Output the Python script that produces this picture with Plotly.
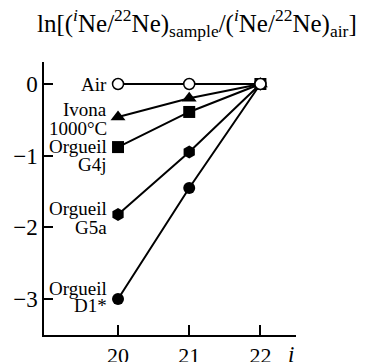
import plotly.graph_objects as go

# ---- data ----
isotope_i = [20, 21, 22]
series_names = ["Air", "Ivona<br>1000°C", "Orgueil<br>G4j", "Orgueil<br>G5a", "Orgueil<br>D1*"]
air = [0.0, 0.0, 0.0]
ivona = [-0.46, -0.20, 0.0]
g4j = [-0.88, -0.39, 0.0]
g5a = [-1.82, -0.95, 0.0]
d1 = [-3.00, -1.45, 0.0]
y_ticks = [0, -1, -2, -3]
x_ticks = [20, 21, 22]

# ---- style ----
FONT = "Liberation Serif"
series = [
    (ivona, "triangle-up", 13, "black"),
    (g4j, "square", 12, "black"),
    (g5a, "hexagon", 13, "black"),
    (d1, "circle", 12, "black"),
    (air, "circle", 11, "white"),
]
label_values = [air, ivona, g4j, g5a, d1]
label_offsets = [[0], [7, -12], [1, -17], [6, -13], [11, -6]]

fig = go.Figure()
for vals, sym, size, fill in series:
    fig.add_trace(go.Scatter(
        x=isotope_i, y=vals, mode="lines+markers",
        line=dict(color="black", width=2),
        marker=dict(symbol=sym, size=size, color=fill,
                    line=dict(color="black", width=1.5 if fill == "white" else 0)),
        showlegend=False, cliponaxis=False,
    ))

annotations = []
for name, vals, offs in zip(series_names, label_values, label_offsets):
    for line, off in zip(name.split("<br>"), offs):
        annotations.append(dict(
            x=isotope_i[0], y=vals[0], xref="x", yref="y",
            text=line, showarrow=False, xanchor="right", yanchor="middle",
            xshift=-9, yshift=off, font=dict(family=FONT, size=19, color="black"),
        ))

annotations.append(dict(
    x=(197 - 44) / 252, y=1, xref="paper", yref="paper", xanchor="center", yanchor="middle",
    yshift=39, showarrow=False,
    text="ln[(<sup><i>i</i></sup>Ne/<sup>22</sup>Ne)<sub>sample</sub>/(<sup><i>i</i></sup>Ne/<sup>22</sup>Ne)<sub>air</sub>]",
    font=dict(family=FONT, size=25, color="black"),
))
annotations.append(dict(
    x=(291 - 44) / 252, y=0, xref="paper", yref="paper", xanchor="center", yanchor="middle",
    yshift=-19, showarrow=False, text="<i>i</i>",
    font=dict(family=FONT, size=23, color="black"),
))

fig.update_layout(
    width=370, height=362,
    margin=dict(l=44, r=74, t=62, b=27, autoexpand=False),
    paper_bgcolor="white", plot_bgcolor="white",
    annotations=annotations,
    font=dict(family=FONT, size=23, color="black"),
)
fig.update_xaxes(range=[18.96, 22.5], tickvals=x_ticks, ticks="inside", ticklen=10,
                 tickwidth=1.5, tickcolor="black", showline=True, linecolor="black",
                 linewidth=1.5, showgrid=False, zeroline=False, automargin=False,
                 ticklabelstandoff=0,
                 tickfont=dict(family=FONT, size=22, color="black"))
fig.update_yaxes(range=[-3.502, 0.307], tickvals=y_ticks, ticks="inside", ticklen=9,
                 tickwidth=1.5, tickcolor="black", showline=True, linecolor="black",
                 linewidth=1.5, showgrid=False, zeroline=False, automargin=False,
                 tickfont=dict(family=FONT, size=23, color="black"))

fig.write_html("out.html")
